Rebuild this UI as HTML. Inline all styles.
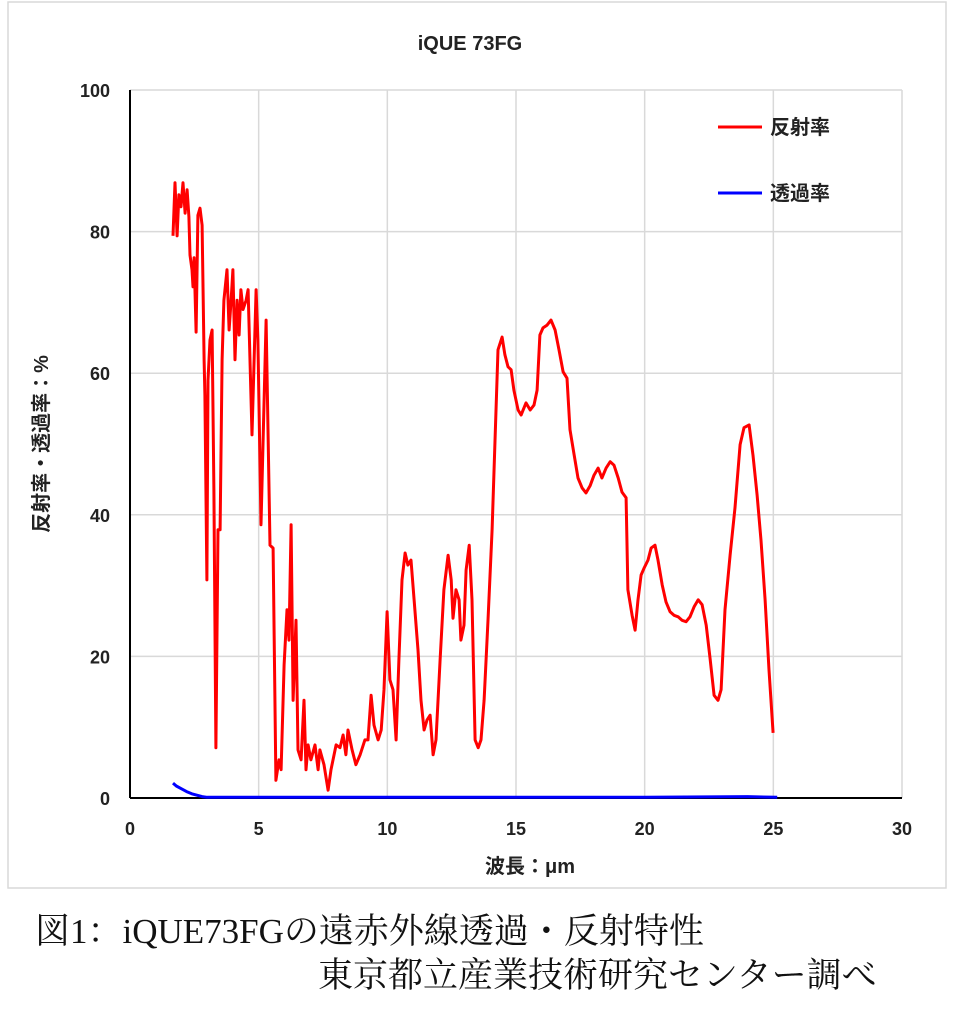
<!DOCTYPE html>
<html><head><meta charset="utf-8"><style>
body{margin:0;background:#fff;width:962px;height:1024px;overflow:hidden;font-family:"Liberation Sans","Noto Sans CJK JP",sans-serif}
.cap{position:absolute;font-family:"Liberation Serif","Noto Serif CJK SC",serif;font-size:35px;color:#111;white-space:nowrap;line-height:1}
</style></head><body>
<svg id="chart" width="962" height="900" style="position:absolute;left:0;top:0"></svg>
<div class="cap" style="left:35px;top:914px">図1：iQUE73FGの遠赤外線透過・反射特性</div>
<div class="cap" style="left:318px;top:958px">東京都立産業技術研究センター調べ</div>
<script>
const xTicks=[0,5,10,15,20,25,30];
const yTicks=[0,20,40,60,80,100];
const reflX=[1.67,1.75,1.83,1.90,1.98,2.06,2.14,2.22,2.29,2.33,2.41,2.45,2.49,2.57,2.64,2.72,2.80,2.88,2.91,2.99,3.03,3.11,3.19,3.26,3.34,3.42,3.50,3.58,3.65,3.77,3.85,3.93,4.00,4.08,4.16,4.24,4.31,4.39,4.51,4.59,4.74,4.90,4.97,5.09,5.29,5.44,5.56,5.67,5.79,5.87,5.99,6.10,6.18,6.26,6.34,6.45,6.53,6.65,6.76,6.84,6.92,7.03,7.19,7.31,7.38,7.54,7.70,7.81,8.01,8.16,8.28,8.39,8.47,8.63,8.78,8.94,9.13,9.25,9.37,9.48,9.64,9.76,9.87,9.99,10.10,10.22,10.34,10.45,10.57,10.69,10.80,10.92,11.04,11.19,11.31,11.43,11.54,11.66,11.78,11.89,12.05,12.20,12.36,12.48,12.55,12.67,12.79,12.86,12.98,13.06,13.18,13.29,13.41,13.53,13.64,13.76,13.91,14.07,14.19,14.30,14.46,14.57,14.69,14.81,14.92,15.08,15.20,15.39,15.55,15.70,15.82,15.93,16.05,16.21,16.36,16.52,16.67,16.83,16.98,17.10,17.26,17.41,17.57,17.72,17.88,18.03,18.19,18.34,18.50,18.66,18.81,18.97,19.12,19.28,19.35,19.51,19.63,19.74,19.86,19.98,20.13,20.25,20.40,20.52,20.68,20.83,20.99,21.14,21.30,21.45,21.61,21.76,21.92,22.08,22.23,22.39,22.54,22.70,22.85,22.97,23.12,23.32,23.51,23.71,23.86,24.06,24.21,24.37,24.52,24.68,24.83,24.99,25.15];
const reflY=[79.4,86.9,79.4,85.2,83.5,86.9,82.6,85.9,82.1,76.7,74.6,72.2,76.3,65.8,82.3,83.3,80.9,61.9,56.9,30.8,59.0,64.7,66.1,43.5,7.1,37.9,37.9,61.9,70.3,74.6,66.1,70.3,74.6,61.9,70.3,65.4,71.8,69.0,70.3,71.8,51.3,71.8,64.7,38.6,67.5,35.7,35.3,2.5,5.4,4.0,18.8,26.6,22.3,38.6,13.8,25.1,6.8,5.4,13.8,4.0,7.5,5.4,7.5,4.0,6.8,4.7,1.1,4.0,7.5,7.1,8.9,6.1,9.6,6.8,4.7,6.1,8.2,8.2,14.5,10.3,8.2,9.6,15.3,26.3,16.7,15.3,8.2,19.5,30.8,34.6,32.9,33.6,28.0,20.9,13.8,9.6,11.0,11.7,6.1,8.2,19.5,29.4,34.3,30.8,25.4,29.4,28.0,22.3,24.4,32.2,35.7,28.0,8.2,7.1,8.2,13.8,25.1,37.9,51.3,63.3,65.1,62.6,60.9,60.5,57.6,54.8,54.1,55.8,54.8,55.5,57.6,65.4,66.4,66.8,67.5,66.1,63.3,60.2,59.3,52.0,48.4,45.2,43.8,43.1,44.1,45.6,46.6,45.2,46.6,47.5,47.0,45.2,43.2,42.4,29.4,25.8,23.7,28.0,31.5,32.5,33.6,35.3,35.7,33.6,30.1,27.7,26.3,25.8,25.6,25.1,24.9,25.6,27.0,28.0,27.3,24.4,19.8,14.5,13.8,15.3,26.6,34.3,41.0,49.9,52.3,52.7,48.4,42.8,36.4,28.0,18.1,9.2];
const transX=[1.67,1.8,2.0,2.2,2.4,2.6,2.8,3.0,4,6,8,10,15,20,24,25.15];
const transY=[2.1,1.7,1.3,0.9,0.6,0.4,0.2,0.1,0.1,0.1,0.1,0.1,0.1,0.1,0.2,0.1];

const NS="http://www.w3.org/2000/svg",svg=document.getElementById('chart');
const L=130,R=902,T=90,B=798;
const sx=v=>L+(v-0)/30*(R-L), sy=v=>B-(v-0)/100*(B-T);
function mk(tag,attrs,parent){const e=document.createElementNS(NS,tag);for(const k in attrs)e.setAttribute(k,attrs[k]);(parent||svg).appendChild(e);return e;}
const frame=mk('rect',{x:8,y:2,width:938,height:886,fill:'#fff',stroke:'#d9d9d9','stroke-width':1.5});


const title=mk('text',{x:470,y:50,'text-anchor':'middle','font-size':20,'font-weight':'bold',fill:'#222'});
title.textContent='iQUE 73FG';


xTicks.forEach(t=>{
  if(t>0){const g=mk('line',{x1:sx(t),x2:sx(t),y1:T,y2:B,stroke:'#d9d9d9','stroke-width':1.5});
  
  }
  const lb=mk('text',{x:sx(t),y:B+37,'text-anchor':'middle','font-size':18,'font-weight':'bold',fill:'#222'});
  lb.textContent=t;
  
  
});
yTicks.forEach(t=>{
  if(t>0){const g=mk('line',{x1:L,x2:R,y1:sy(t),y2:sy(t),stroke:'#d9d9d9','stroke-width':1.5});
  
  }
  const lb=mk('text',{x:L-20,y:sy(t)+7,'text-anchor':'end','font-size':18,'font-weight':'bold',fill:'#222'});
  lb.textContent=t;
  
  
});
const ya=mk('line',{x1:L,x2:L,y1:T,y2:B,stroke:'#000','stroke-width':2});


const xa=mk('line',{x1:L,x2:R,y1:B,y2:B,stroke:'#000','stroke-width':2});


const xt=mk('text',{x:530,y:873,'text-anchor':'middle','font-size':20,'font-weight':'bold',fill:'#222'});
xt.textContent='波長：μm';


const yt=mk('text',{x:0,y:0,'text-anchor':'middle','font-size':20,'font-weight':'bold',fill:'#222',transform:'translate(48,444) rotate(-90)'});
yt.textContent='反射率・透過率：%';


function pathOf(xs,ys){return xs.map((x,i)=>(i?'L':'M')+sx(x).toFixed(1)+','+sy(ys[i]).toFixed(1)).join('');}
const tl=mk('path',{d:pathOf(transX,transY),fill:'none',stroke:'#0000ff','stroke-width':3,'stroke-linejoin':'round'});


const rl=mk('path',{d:pathOf(reflX,reflY),fill:'none',stroke:'#ff0000','stroke-width':3,'stroke-linejoin':'round'});


[['反射率','#ff0000',127],['透過率','#0000ff',193]].forEach(([n,c,y])=>{
  const g=mk('g',{});
  
  
  mk('line',{x1:718,x2:762,y1:y,y2:y,stroke:c,'stroke-width':3},g);
  const t=mk('text',{x:770,y:y+7,'font-size':20,'font-weight':'bold',fill:'#222'},g);
  t.textContent=n;
});
</script>
</body></html>
